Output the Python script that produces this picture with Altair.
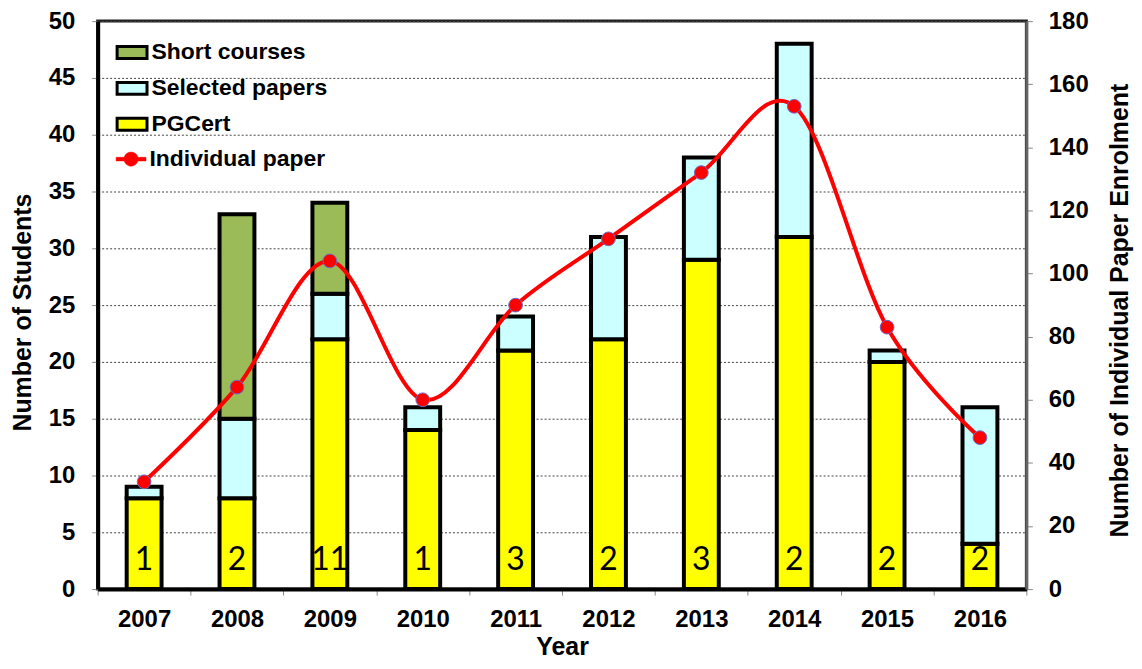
import altair as alt
import pandas as pd

years = ["2007", "2008", "2009", "2010", "2011", "2012", "2013", "2014", "2015", "2016"]
pgcert = [8, 8, 22, 14, 21, 22, 29, 31, 20, 4]
selected_papers = [1, 7, 4, 2, 3, 9, 9, 17, 1, 12]
short_courses = [0, 18, 8, 0, 0, 0, 0, 0, 0, 0]
individual_paper = [34, 64, 104, 60, 90, 111, 132, 153, 83, 48]
bar_labels = ["1", "2", "11", "1", "3", "2", "3", "2", "2", "2"]

categories = ["Short courses", "Selected papers", "PGCert"]
cat_colors = ["#9BBB59", "#CCFFFF", "#FFFF00"]

rows = []
for i, yr in enumerate(years):
    for name, vals, rank in [("PGCert", pgcert, 0), ("Selected papers", selected_papers, 1),
                             ("Short courses", short_courses, 2)]:
        if vals[i] > 0:
            rows.append({"year": yr, "category": name, "students": vals[i], "rank": rank})
bars_df = pd.DataFrame(rows)

line_df = pd.DataFrame({
    "year": years,
    "enrol": individual_paper,
    "series": ["Individual paper"] * len(years),
    "label": bar_labels,
    "students": [0] * len(years),
})

FONT = "Liberation Sans"

x_enc = alt.X(
    "year:N",
    sort=years,
    scale=alt.Scale(paddingInner=0, paddingOuter=0),
    axis=alt.Axis(
        title="Year", tickBand="extent", labelAngle=0,
        labelFont=FONT, labelFontSize=24, labelFontWeight="bold", labelColor="black",
        labelPadding=13, tickSize=6, tickColor="#888", tickWidth=1,
        domainColor="black", domainWidth=4,
        titleFont=FONT, titleFontSize=25, titleFontWeight="bold", titleColor="black",
        titleY=58, titleBaseline="middle",
    ),
)

left_axis = alt.Axis(
    values=list(range(0, 51, 5)), title="Number of Students",
    grid=True, gridDash=[2, 2], gridColor="#444", gridWidth=1,
    domainColor="black", domainWidth=4, tickColor="#888", tickSize=6, tickWidth=1,
    labelFont=FONT, labelFontSize=24, labelFontWeight="bold", labelColor="black", labelPadding=17,
    titleFont=FONT, titleFontSize=25, titleFontWeight="bold", titleColor="black",
    titleX=-75, titleY=292, titleAngle=-90, titleBaseline="middle", titleAlign="center",
)

left_scale = alt.Scale(domain=[0, 50])

bars = alt.Chart(bars_df).mark_bar(size=35, stroke="black", strokeWidth=4, opacity=1).encode(
    x=x_enc,
    y=alt.Y("students:Q", stack="zero", scale=left_scale, axis=left_axis),
    color=alt.Color(
        "category:N",
        scale=alt.Scale(domain=categories, range=cat_colors),
        legend=alt.Legend(
            orient="none", legendX=18, legendY=15, title=None,
            symbolType="M-1,-0.4H1V0.4H-1Z", symbolSize=900,
            symbolStrokeColor="black", symbolStrokeWidth=3, symbolOpacity=1,
            labelFont=FONT, labelFontSize=23, labelFontWeight="bold", labelColor="black",
            labelOffset=3, rowPadding=7, padding=0, labelLimit=400,
        ),
    ),
    order=alt.Order("rank:Q", sort="ascending"),
)

texts = alt.Chart(line_df).mark_text(font="Lato", fontSize=32, baseline="alphabetic", dy=-19,
                                     color="black").encode(
    x=alt.X("year:N", sort=years),
    y=alt.Y("students:Q", stack=None, scale=left_scale, axis=left_axis),
    text="label:N",
)

right_axis = alt.Axis(
    orient="right", values=list(range(0, 181, 20)), title="Number of Individual Paper Enrolment",
    grid=False, domainColor="#666", domainWidth=3, tickColor="#888", tickSize=6, tickWidth=1,
    labelFont=FONT, labelFontSize=24, labelFontWeight="bold", labelColor="black", labelPadding=16,
    titleFont=FONT, titleFontSize=25, titleFontWeight="bold", titleColor="black",
    titleX=93, titleY=290, titleAngle=-90, titleBaseline="middle", titleAlign="center",
)

y_right = alt.Y("enrol:Q", scale=alt.Scale(domain=[0, 180]), axis=right_axis)

line = alt.Chart(line_df).mark_line(color="#FF0000", strokeWidth=4, interpolate="cardinal").encode(
    x=alt.X("year:N", sort=years),
    y=y_right,
)

points = alt.Chart(line_df).mark_point(filled=True, size=190, stroke="#6b6bc8", strokeWidth=1,
                                       opacity=1).encode(
    x=alt.X("year:N", sort=years),
    y=y_right,
    color=alt.Color(
        "series:N",
        scale=alt.Scale(domain=["Individual paper"], range=["#FF0000"]),
        legend=alt.Legend(
            orient="none", legendX=18, legendY=123, title=None,
            symbolType="M-1,-0.12H1V0.12H-1Z M0.47,0 A0.47,0.47 0 1,1 -0.47,0 A0.47,0.47 0 1,1 0.47,0Z",
            symbolSize=900, symbolFillColor="#FF0000", symbolStrokeColor="#FF0000",
            symbolStrokeWidth=0.5, symbolOpacity=1,
            labelFont=FONT, labelFontSize=23, labelFontWeight="bold", labelColor="black",
            labelOffset=3, padding=0, labelLimit=400,
        ),
    ),
)

left_layer = alt.layer(bars, texts)
right_layer = alt.layer(line, points)

chart = alt.layer(left_layer, right_layer).resolve_scale(
    y="independent", color="independent"
).properties(
    width=932, height=570,
    padding={"left": 90, "top": 12, "right": 108, "bottom": 71},
    autosize=alt.AutoSizeParams(type="none"),
    background="white",
).configure_view(stroke="#222", strokeWidth=3)

chart.save("out.html", embed_options={"renderer": "svg", "actions": False})
